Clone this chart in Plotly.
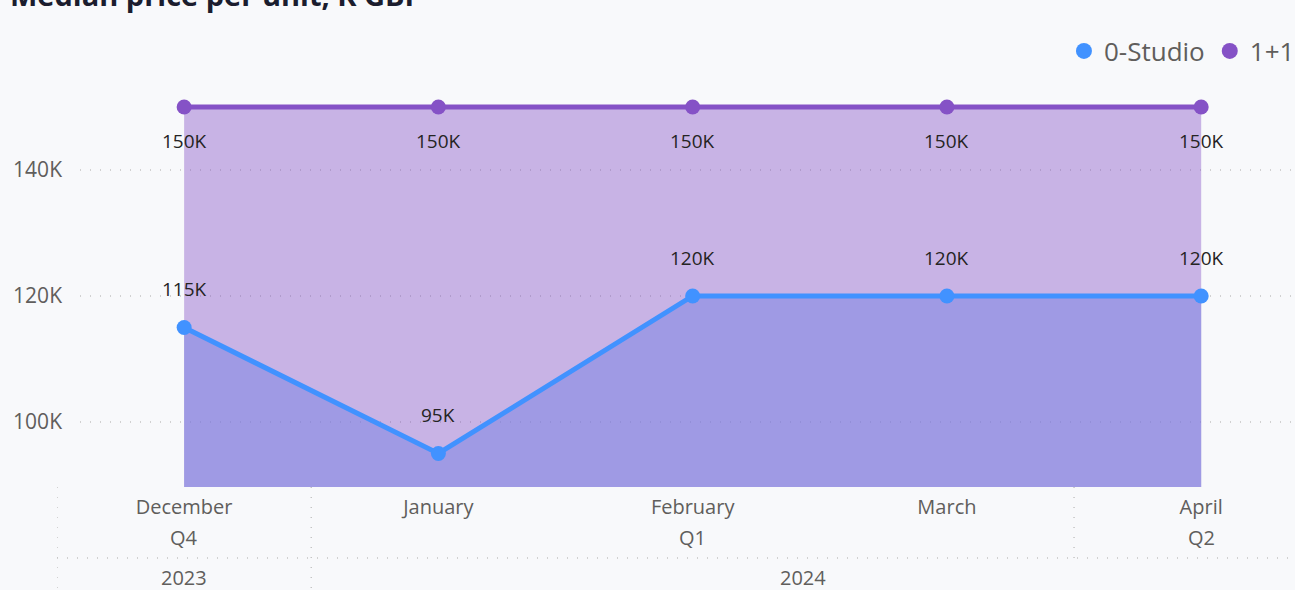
import plotly.graph_objects as go

months = ["December", "January", "February", "March", "April"]
quarters = ["Q4", "Q1", "Q2"]
quarter_pos = [0, 2, 4]
years = ["2023", "2024"]
year_pos = [0, 2.435]
studio = [115, 95, 120, 120, 120]
one_plus_one = [150, 150, 150, 150, 150]
y_ticks = [100, 120, 140]
y_tick_labels = ["100K", "120K", "140K"]

BG = "#F8F9FB"
BLUE = "#4192FF"
PURPLE = "#8552C6"
AXIS_C = "#605E5C"
LABEL_C = "#252423"
FONT = "Open Sans"

fig = go.Figure()

# 1+1 area
fig.add_trace(go.Scatter(
    x=months, y=one_plus_one, mode="lines+markers", name="1+1",
    fill="tozeroy", fillcolor="rgba(132,80,196,0.41)",
    line=dict(color=PURPLE, width=5), marker=dict(size=15, color=PURPLE),
    showlegend=False, hoverinfo="x+y",
))
# Studio area
fig.add_trace(go.Scatter(
    x=months, y=studio, mode="lines+markers", name="0-Studio",
    fill="tozeroy", fillcolor="rgba(118,129,227,0.5)",
    line=dict(color=BLUE, width=5), marker=dict(size=15, color=BLUE),
    showlegend=False, hoverinfo="x+y",
))
# legend entries (circles only)
fig.add_trace(go.Scatter(x=[None], y=[None], mode="markers", name="0-Studio",
                         marker=dict(size=20, color=BLUE), legendrank=1))
fig.add_trace(go.Scatter(x=[None], y=[None], mode="markers", name="1+1",
                         marker=dict(size=20, color=PURPLE), legendrank=2))

annotations = []
for m, v in zip(months, one_plus_one):
    annotations.append(dict(x=m, y=v, xref="x", yref="y", text=f"{v}K", showarrow=False,
                            yshift=-34, font=dict(size=19, color=LABEL_C, family=FONT)))
for m, v in zip(months, studio):
    annotations.append(dict(x=m, y=v, xref="x", yref="y", text=f"{v}K", showarrow=False,
                            yshift=38, font=dict(size=19, color=LABEL_C, family=FONT)))
for q, p in zip(quarters, quarter_pos):
    annotations.append(dict(x=p, y=-0.1223, xref="x", yref="paper", text=q, showarrow=False,
                            yanchor="middle", font=dict(size=20, color=AXIS_C, family=FONT)))
for yr, p in zip(years, year_pos):
    annotations.append(dict(x=p, y=-0.218, xref="x", yref="paper", text=yr, showarrow=False,
                            yanchor="middle", font=dict(size=20, color=AXIS_C, family=FONT)))
annotations.append(dict(x=(8 - 57) / 1238, y=1.182, xref="paper", yref="paper",
                        xanchor="left", yanchor="middle",
                        text="<b>Median price per unit, K GBP</b>", showarrow=False,
                        font=dict(size=29, color="#1B1D2E", family=FONT)))

DOT = "1px,9px"
GRID_C = "#C4C4C4"
shapes = []
for t in y_ticks:
    shapes.append(dict(type="line", xref="paper", yref="y", x0=(80 - 57) / 1238, x1=1, y0=t, y1=t,
                       line=dict(color=GRID_C, width=1.5, dash=DOT), layer="below"))
# hierarchical axis separators
shapes.append(dict(type="line", xref="x", yref="paper", x0=-0.5, x1=4.37, y0=-0.1703, y1=-0.1703,
                   line=dict(color=GRID_C, width=1.5, dash=DOT)))
for xb, yb in [(-0.5, -0.25), (0.5, -0.25), (3.5, -0.1703)]:
    shapes.append(dict(type="line", xref="x", yref="paper", x0=xb, x1=xb, y0=0, y1=yb,
                       line=dict(color=GRID_C, width=1.5, dash=DOT)))

fig.update_layout(
    width=1295, height=590,
    paper_bgcolor=BG, plot_bgcolor=BG,
    margin=dict(l=57, r=0, t=70, b=103, autoexpand=False),
    font=dict(family=FONT, color=AXIS_C),
    xaxis=dict(type="category", range=[-0.5, 4.369], showgrid=False, zeroline=False,
               showline=False, ticks="", ticklabelstandoff=6,
               tickfont=dict(size=20, color=AXIS_C)),
    yaxis=dict(range=[89.68, 155.87], tickvals=y_ticks, ticktext=y_tick_labels, showgrid=False,
               zeroline=False, showline=False, ticks="", ticklabelstandoff=-6,
               tickfont=dict(size=21, color=AXIS_C)),
    legend=dict(orientation="h", x=1.004, xanchor="right", y=1.0456, yanchor="middle",
                font=dict(size=26, color=AXIS_C, family=FONT), bgcolor="rgba(0,0,0,0)",
                itemclick=False),
    annotations=annotations,
    shapes=shapes,
    showlegend=True,
)

fig.write_html("out.html", config={"displayModeBar": False},
               post_script="document.body.style.margin='0';document.body.style.overflow='hidden';")
